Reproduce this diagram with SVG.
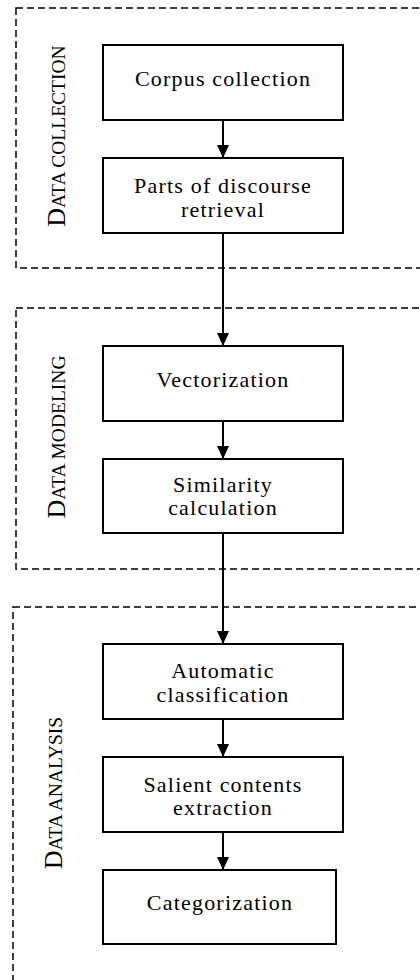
<svg xmlns="http://www.w3.org/2000/svg" width="420" height="980" viewBox="0 0 420 980">
<style>
.grp{fill:none;stroke:#000;stroke-width:1.5;stroke-dasharray:7 4}
.box{fill:#fff;stroke:#000;stroke-width:2}
.t{font-family:"Liberation Serif","Times New Roman",serif;font-size:22px;letter-spacing:1.2px;text-anchor:middle;fill:#000}
.lab{font-family:"Liberation Serif","Times New Roman",serif;font-size:19.5px;text-anchor:middle;fill:#000}
.big{font-size:26px}
.c{fill:none;stroke:#000;stroke-width:2}
</style>
<defs>
<marker id="ah" markerWidth="14" markerHeight="12" refX="13" refY="6" orient="auto" markerUnits="userSpaceOnUse">
<path d="M0,0 L13,6 L0,12 Z" fill="#000"/>
</marker>
</defs>
<g id="group-collection">
<rect class="grp" x="16" y="8" width="420" height="260"/>
<text class="lab" transform="translate(65,136) rotate(-90)"><tspan class="big">D</tspan>ATA COLLECTION</text>
</g>
<g id="group-modeling">
<rect class="grp" x="16" y="308" width="420" height="261"/>
<text class="lab" transform="translate(65,437) rotate(-90)"><tspan class="big">D</tspan>ATA MODELING</text>
</g>
<g id="group-analysis">
<rect class="grp" x="13" y="607" width="420" height="400"/>
<text class="lab" transform="translate(62,793) rotate(-90)"><tspan class="big">D</tspan>ATA ANALYSIS</text>
</g>
<g id="connectors">
<line class="c" x1="223" y1="120" x2="223" y2="158" marker-end="url(#ah)"/>
<line class="c" x1="223" y1="233" x2="223" y2="346" marker-end="url(#ah)"/>
<line class="c" x1="223" y1="421" x2="223" y2="459" marker-end="url(#ah)"/>
<line class="c" x1="223" y1="533" x2="223" y2="644" marker-end="url(#ah)"/>
<line class="c" x1="223" y1="719" x2="223" y2="757" marker-end="url(#ah)"/>
<line class="c" x1="223" y1="832" x2="223" y2="870" marker-end="url(#ah)"/>
</g>
<g id="corpus">
<rect class="box" x="103" y="45" width="240" height="75"/>
<text class="t" x="223" y="86">Corpus collection</text>
</g>
<g id="parts">
<rect class="box" x="103" y="158" width="240" height="75"/>
<text class="t" x="223" y="193">Parts of discourse</text>
<text class="t" x="223" y="217">retrieval</text>
</g>
<g id="vectorization">
<rect class="box" x="103" y="346" width="240" height="75"/>
<text class="t" x="223" y="387">Vectorization</text>
</g>
<g id="similarity">
<rect class="box" x="103" y="459" width="240" height="74"/>
<text class="t" x="223" y="492">Similarity</text>
<text class="t" x="223" y="515">calculation</text>
</g>
<g id="automatic">
<rect class="box" x="103" y="644" width="240" height="75"/>
<text class="t" x="223" y="678">Automatic</text>
<text class="t" x="223" y="702">classification</text>
</g>
<g id="salient">
<rect class="box" x="103" y="757" width="240" height="75"/>
<text class="t" x="223" y="792">Salient contents</text>
<text class="t" x="223" y="815">extraction</text>
</g>
<g id="categorization">
<rect class="box" x="103" y="870" width="233" height="74"/>
<text class="t" x="220" y="910">Categorization</text>
</g>
</svg>
